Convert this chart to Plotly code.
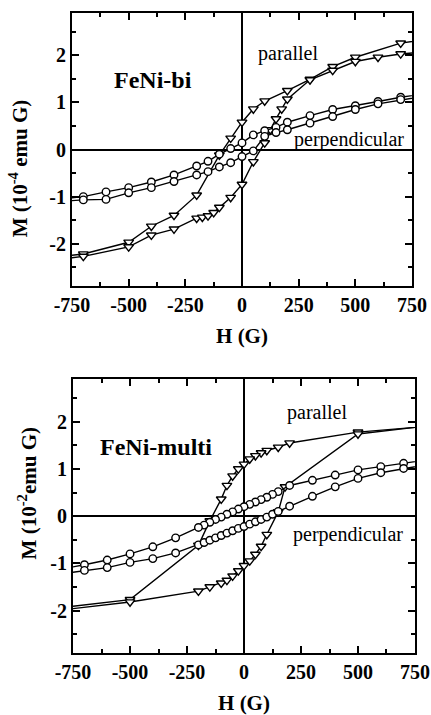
import plotly.graph_objects as go

# ---------------- data: FeNi-bi (units 1e-4 emu G) ----------------
bi_par_down_H = [800, 700, 500, 400, 300, 200, 100, 50, 0, -50, -100, -200, -300, -400, -500, -700, -800]
bi_par_down_M = [2.33, 2.26, 1.96, 1.76, 1.49, 1.25, 1.03, 0.86, 0.58, 0.24, -0.12, -0.97, -1.40, -1.63, -1.97, -2.22, -2.27]
bi_par_up_H = [-800, -700, -500, -400, -300, -200, -175, -150, -125, -100, -50, 0, 50, 100, 125, 150, 175, 200, 300, 400, 500, 600, 700, 800]
bi_par_up_M = [-2.33, -2.27, -2.07, -1.82, -1.69, -1.46, -1.44, -1.41, -1.34, -1.23, -1.02, -0.74, -0.26, 0.14, 0.42, 0.65, 0.86, 1.07, 1.48, 1.68, 1.87, 1.96, 2.03, 2.07]
bi_perp_down_H = [800, 700, 600, 500, 400, 300, 200, 150, 100, 50, 0, -50, -100, -150, -200, -300, -400, -500, -600, -700, -800]
bi_perp_down_M = [1.18, 1.11, 1.02, 0.93, 0.85, 0.72, 0.58, 0.47, 0.40, 0.31, 0.14, 0.02, -0.10, -0.25, -0.35, -0.54, -0.69, -0.81, -0.90, -1.00, -1.05]
bi_perp_up_H = [-800, -700, -600, -500, -400, -300, -200, -150, -100, -50, 0, 50, 100, 150, 200, 300, 400, 500, 600, 700, 800]
bi_perp_up_M = [-1.10, -1.07, -1.06, -0.92, -0.81, -0.68, -0.54, -0.47, -0.37, -0.28, -0.15, -0.03, 0.28, 0.36, 0.42, 0.56, 0.70, 0.85, 0.97, 1.06, 1.13]

# ---------------- data: FeNi-multi (units 1e-2 emu G) ----------------
mu_par_down_H = [1000, 500, 200, 150, 100, 75, 50, 25, 0, -25, -50, -75, -100, -150, -200, -500, -1000]
mu_par_down_M = [1.98, 1.78, 1.55, 1.46, 1.39, 1.34, 1.28, 1.21, 1.10, 1.00, 0.85, 0.65, 0.36, -0.10, -0.62, -1.77, -2.05]
mu_par_up_H = [-1000, -500, -200, -150, -100, -75, -50, -25, 0, 25, 50, 75, 100, 150, 180, 500, 1000]
mu_par_up_M = [-2.10, -1.82, -1.59, -1.50, -1.42, -1.36, -1.27, -1.16, -1.05, -0.95, -0.81, -0.64, -0.39, 0.09, 0.62, 1.74, 2.02]
mu_perp_down_H = [800, 700, 600, 500, 400, 300, 200, 150, 125, 100, 75, 50, 25, 0, -25, -50, -75, -100, -125, -150, -175, -200, -300, -400, -500, -600, -700, -800]
mu_perp_down_M = [1.19, 1.12, 1.05, 0.98, 0.87, 0.76, 0.65, 0.52, 0.46, 0.40, 0.35, 0.30, 0.25, 0.20, 0.15, 0.09, 0.04, -0.02, -0.07, -0.13, -0.19, -0.24, -0.46, -0.65, -0.80, -0.93, -1.03, -1.12]
mu_perp_up_H = [-800, -700, -600, -500, -400, -300, -200, -175, -150, -125, -100, -75, -50, -25, 0, 25, 50, 75, 100, 125, 150, 200, 300, 400, 500, 600, 700, 800]
mu_perp_up_M = [-1.22, -1.15, -1.09, -0.98, -0.90, -0.78, -0.61, -0.56, -0.51, -0.46, -0.41, -0.36, -0.31, -0.26, -0.22, -0.17, -0.12, -0.07, -0.02, 0.04, 0.10, 0.21, 0.42, 0.62, 0.80, 0.92, 1.01, 1.09]

x_ticks = [-750, -500, -250, 0, 250, 500, 750]
y_ticks = [-2, -1, 0, 1, 2]

FONT = "Liberation Serif, Times New Roman, serif"

fig = go.Figure()

def add(H, M, sym, size, xa, ya):
    fig.add_trace(go.Scatter(
        x=H, y=M, mode="lines+markers", xaxis=xa, yaxis=ya, showlegend=False,
        line=dict(color="black", width=1.4),
        marker=dict(symbol=sym, size=size, color="white", line=dict(color="black", width=1.4)),
        cliponaxis=True,
    ))

add(bi_par_down_H, bi_par_down_M, "triangle-down", 8.5, "x", "y")
add(bi_par_up_H, bi_par_up_M, "triangle-down", 8.5, "x", "y")
add(bi_perp_down_H, bi_perp_down_M, "circle", 7.5, "x", "y")
add(bi_perp_up_H, bi_perp_up_M, "circle", 7.5, "x", "y")
add(mu_par_down_H, mu_par_down_M, "triangle-down", 8.5, "x2", "y2")
add(mu_par_up_H, mu_par_up_M, "triangle-down", 8.5, "x2", "y2")
add(mu_perp_down_H, mu_perp_down_M, "circle", 7.5, "x2", "y2")
add(mu_perp_up_H, mu_perp_up_M, "circle", 7.5, "x2", "y2")

tickfont = dict(family=FONT, size=20, color="black", weight="bold")
titlefont = dict(family=FONT, size=21, color="black", weight="bold")

def xaxis(domain, anchor):
    return dict(
        domain=domain, anchor=anchor, range=[-750, 750], automargin=False,
        tickvals=x_ticks, ticktext=[str(v) for v in x_ticks],
        ticks="inside", ticklen=7, tickwidth=1.5, tickcolor="black",
        minor=dict(dtick=125, tick0=0, ticks="inside", ticklen=4, tickwidth=1.5, tickcolor="black"),
        showline=True, linecolor="black", linewidth=2, mirror="allticks",
        showgrid=False, zeroline=True, zerolinecolor="black", zerolinewidth=1.6,
        tickfont=tickfont,
        title=dict(text="H (G)", font=titlefont, standoff=13),
    )

def yaxis(domain, anchor):
    return dict(
        domain=domain, anchor=anchor, range=[-2.9, 2.9], automargin=False,
        tickvals=y_ticks, ticktext=[str(v) for v in y_ticks],
        ticks="inside", ticklen=7, tickwidth=1.5, tickcolor="black",
        minor=dict(dtick=0.5, tick0=0, ticks="inside", ticklen=4, tickwidth=1.5, tickcolor="black"),
        showline=True, linecolor="black", linewidth=2, mirror="allticks",
        showgrid=False, zeroline=True, zerolinecolor="black", zerolinewidth=1.6,
        tickfont=tickfont,
    )

ann = []
def text(t, x, y, xr, yr, size, bold=False, angle=0):
    ann.append(dict(text=t, x=x, y=y, xref=xr, yref=yr, showarrow=False, textangle=angle,
                    font=dict(family=FONT, size=size, color="black", weight="bold" if bold else "normal"),
                    xanchor="center", yanchor="middle"))

text("FeNi-bi", -393, 1.48, "x", "y", 24, True)
text("parallel", 203, 2.05, "x", "y", 20)
text("perpendicular", 472, 0.22, "x", "y", 20)
text("FeNi-multi", -386, 1.47, "x2", "y2", 24, True)
text("parallel", 322, 2.19, "x2", "y2", 20)
text("perpendicular", 458, -0.38, "x2", "y2", 20)
# y-axis titles (placed as in the reference, off-centre)
text("M (10<sup>-4</sup> emu G)", -0.155, 0.757, "paper", "paper", 21, True, -90)
text("M (10<sup>-2</sup>emu G)", -0.13, 0.25, "paper", "paper", 21, True, -90)

fig.update_layout(
    template="none",
    font=dict(family=FONT, color="black"),
    width=431, height=715,
    margin=dict(l=72, r=16, t=13, b=62, autoexpand=False),
    paper_bgcolor="white", plot_bgcolor="white",
    xaxis=xaxis([0, 0.9913], "y"),
    yaxis=yaxis([0.5734, 1], "x"),
    xaxis2=xaxis([0.003, 1], "y2"),
    yaxis2=yaxis([0, 0.4277], "x2"),
    annotations=ann,
    showlegend=False,
)

fig.write_html("out.html")
